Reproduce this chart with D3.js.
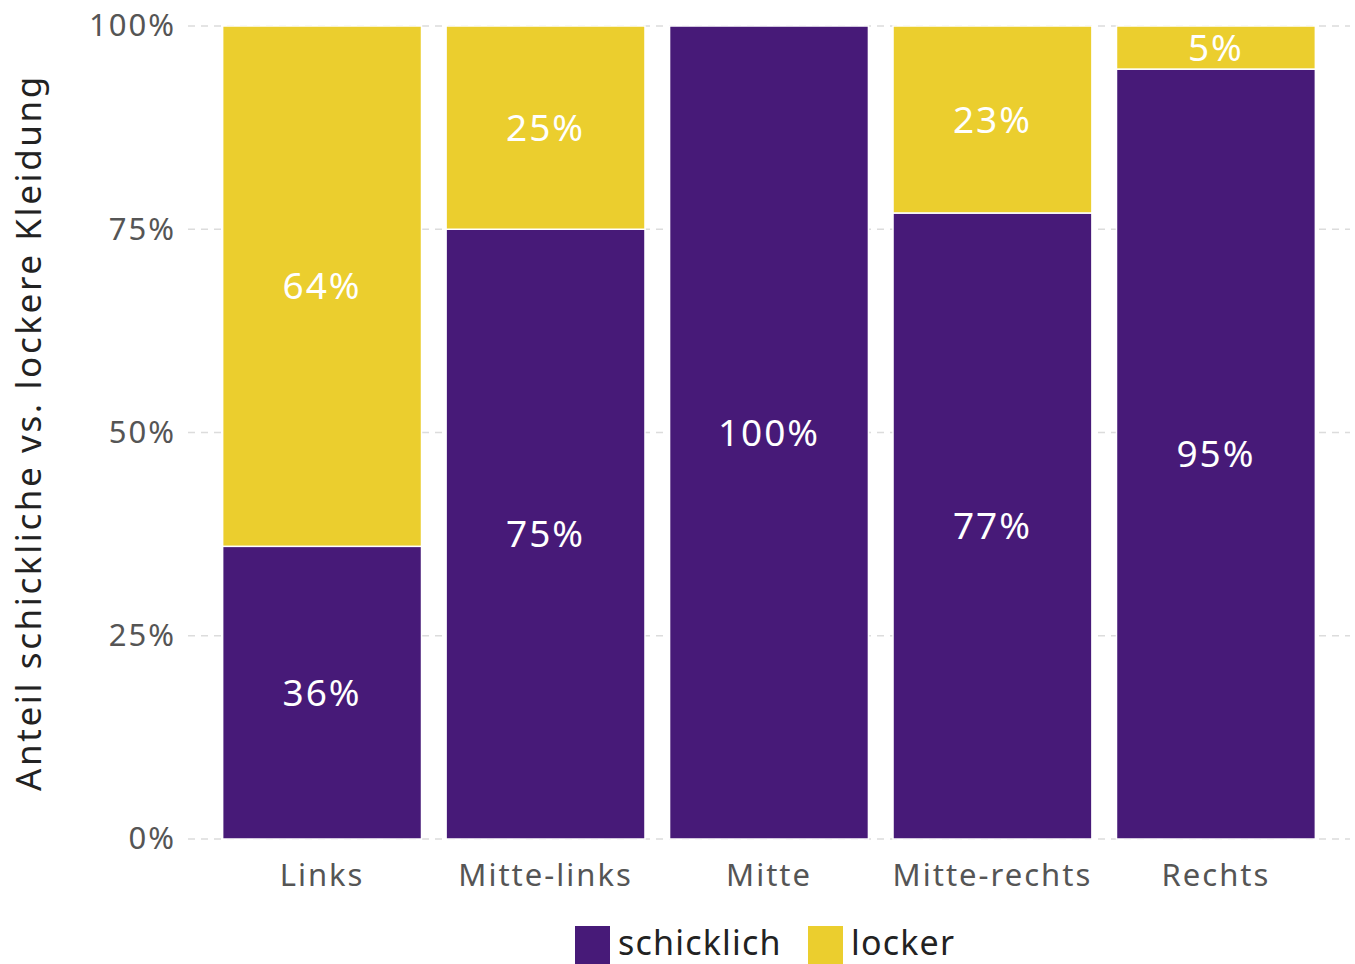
<!DOCTYPE html>
<html>
<head>
<meta charset="utf-8">
<script src="https://cdn.jsdelivr.net/npm/d3@7"></script>
<style>
  body { margin: 0; background: #fff; }
  svg { display: block; font-family: "Noto Sans", "Open Sans", sans-serif; }
</style>
</head>
<body>
<div id="chart"></div>
<script>
// Daten
const categories = ["Links", "Mitte-links", "Mitte", "Mitte-rechts", "Rechts"];
const series = ["schicklich", "locker"];
const schicklich = [0.36, 0.75, 1.00, 0.77, 0.947];
const locker = [0.64, 0.25, 0.00, 0.23, 0.053];
const yTicks = [0, 0.25, 0.5, 0.75, 1];
const colors = ["#471a78", "#ebce2e"];

const width = 1355, height = 964;
const margin = { top: 26, right: 5, bottom: 125, left: 188 };

const svg = d3.select("#chart").append("svg")
    .attr("width", width)
    .attr("height", height);

const x = d3.scaleBand()
    .domain(categories)
    .range([margin.left, width - margin.right])
    .paddingInner(0.11)
    .paddingOuter(0.155);

const y = d3.scaleLinear()
    .domain([0, 1])
    .range([height - margin.bottom, margin.top]);

// Gitterlinien
svg.append("g")
  .selectAll("line")
  .data(yTicks)
  .join("line")
    .attr("x1", margin.left)
    .attr("x2", width - margin.right)
    .attr("y1", d => y(d))
    .attr("y2", d => y(d))
    .attr("stroke", "#dcdcdc")
    .attr("stroke-width", 1.4)
    .attr("stroke-dasharray", "7,6");

// Y-Achse
const yAxis = svg.append("g")
    .attr("transform", "translate(" + margin.left + ",0)")
    .call(d3.axisLeft(y).tickValues(yTicks).tickFormat(d3.format(".0%")).tickSize(0).tickPadding(12));
yAxis.select(".domain").remove();
yAxis.selectAll("text")
    .attr("font-size", 31)
    .attr("letter-spacing", 2)
    .attr("fill", "#555")
    .attr("font-family", "Noto Sans");

// X-Achse
const xAxis = svg.append("g")
    .attr("transform", "translate(0," + (height - margin.bottom) + ")")
    .call(d3.axisBottom(x).tickSize(0).tickPadding(25));
xAxis.select(".domain").remove();
xAxis.selectAll("text")
    .attr("font-size", 31)
    .attr("letter-spacing", 2)
    .attr("fill", "#555")
    .attr("font-family", "Noto Sans");

// Gestapelte Balken
const rows = categories.map((c, i) => ({ cat: c, schicklich: schicklich[i], locker: locker[i] }));
const stack = d3.stack().keys(series)(rows);

const layers = svg.append("g")
  .selectAll("g")
  .data(stack)
  .join("g")
    .attr("fill", (d, i) => colors[i]);

layers.selectAll("rect")
  .data(d => d.filter(s => s[1] - s[0] > 0))
  .join("rect")
    .attr("x", d => x(d.data.cat))
    .attr("width", x.bandwidth())
    .attr("y", d => y(d[1]))
    .attr("height", d => y(d[0]) - y(d[1]))
    .attr("stroke", "#fff")
    .attr("stroke-width", 1.5);

layers.selectAll("text")
  .data(d => d.filter(s => s[1] - s[0] > 0))
  .join("text")
    .attr("x", d => x(d.data.cat) + x.bandwidth() / 2)
    .attr("y", d => (y(d[0]) + y(d[1])) / 2)
    .attr("dy", "0.36em")
    .attr("text-anchor", "middle")
    .attr("fill", "#fff")
    .attr("font-size", 37)
    .attr("letter-spacing", 2)
    .text(d => Math.round((d[1] - d[0]) * 100) + "%");

// Achsentitel
svg.append("text")
    .attr("transform", "translate(41," + y(0.5) + ") rotate(-90)")
    .attr("text-anchor", "middle")
    .attr("font-size", 35)
    .attr("letter-spacing", 2.6)
    .attr("fill", "#222")
    .text("Anteil schickliche vs. lockere Kleidung");

// Legende
const legend = svg.append("g").attr("transform", "translate(575,926)");
const legendItems = [
  { label: series[0], color: colors[0], x: 0 },
  { label: series[1], color: colors[1], x: 233 }
];
const li = legend.selectAll("g")
  .data(legendItems)
  .join("g")
    .attr("transform", d => "translate(" + d.x + ",0)");
li.append("rect")
    .attr("width", 35)
    .attr("height", 38)
    .attr("fill", d => d.color);
li.append("text")
    .attr("x", 43)
    .attr("y", 29)
    .attr("font-size", 34)
    .attr("letter-spacing", 1.2)
    .attr("fill", "#222")
    .text(d => d.label);
</script>
</body>
</html>
